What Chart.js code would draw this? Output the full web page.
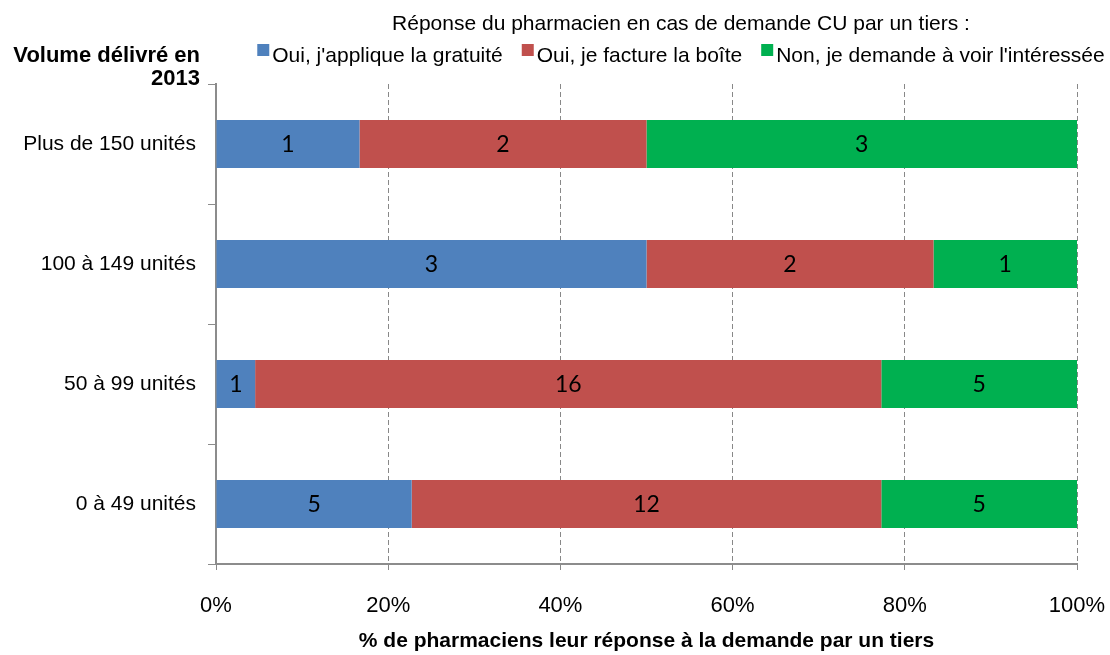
<!DOCTYPE html>
<html lang="fr">
<head>
<meta charset="utf-8">
<title>Réponse du pharmacien en cas de demande CU par un tiers</title>
<script src="https://cdn.jsdelivr.net/npm/chart.js@4.4.1/dist/chart.umd.min.js"></script>
<style>
  html, body { margin: 0; padding: 0; background: #fff; }
</style>
</head>
<body>
<canvas id="chart" width="1110" height="655"></canvas>
<script>
// Catégories : volume délivré en 2013
const categories = ["Plus de 150 unités", "100 à 149 unités", "50 à 99 unités", "0 à 49 unités"];

// Nombre de pharmaciens pour chaque réponse
const gratuite = [1, 3, 1, 5];
const facture = [2, 2, 16, 12];
const voir = [3, 1, 5, 5];

const seriesNames = ["Oui, j'applique la gratuité", "Oui, je facture la boîte", "Non, je demande à voir l'intéressée"];
const seriesColors = ["#4F81BD", "#C0504D", "#00B050"];

// Graduations de l'axe horizontal (en %)
const xTicks = [0, 20, 40, 60, 80, 100];

const legendTitle = "Réponse du pharmacien en cas de demande CU par un tiers :";
const yTitle = ["Volume délivré en", "2013"];
const xTitle = "% de pharmaciens leur réponse à la demande par un tiers";

const FONT = "'Liberation Sans', Arial, sans-serif";

// Totaux par catégorie pour passer en pourcentage
const counts = [gratuite, facture, voir];
const totals = categories.map((_, i) => gratuite[i] + facture[i] + voir[i]);
function toPercent(arr) {
    return arr.map((v, i) => v / totals[i] * 100);
}

// Étiquettes de valeurs au centre des segments
const valueLabels = {
    id: "valueLabels",
    afterDatasetsDraw(chart) {
        const ctx = chart.ctx;
        ctx.save();
        ctx.fillStyle = "#000";
        ctx.font = "23px Lato, 'Open Sans', sans-serif";
        ctx.textAlign = "center";
        ctx.textBaseline = "middle";
        chart.data.datasets.forEach((ds, d) => {
            const meta = chart.getDatasetMeta(d);
            meta.data.forEach((bar, i) => {
                const cx = (bar.x + bar.base) / 2;
                ctx.fillText(String(counts[d][i]), cx, bar.y + 1);
            });
        });
        ctx.restore();
    }
};

// Légende, titre de légende et titre de l'axe vertical
const decor = {
    id: "decor",
    afterDraw(chart) {
        const ctx = chart.ctx;
        ctx.save();
        ctx.fillStyle = "#000";
        ctx.textBaseline = "alphabetic";

        // Titre de l'axe vertical (gras, aligné à droite)
        ctx.font = "bold 22px " + FONT;
        ctx.textAlign = "right";
        ctx.fillText(yTitle[0], 200, 62);
        ctx.fillText(yTitle[1], 200, 85);

        // Légende
        ctx.font = "21px " + FONT;
        const box = 12, gapBox = 3, gapItem = 19;
        const widths = seriesNames.map(n => ctx.measureText(n).width);
        const total = widths.reduce((a, b) => a + b, 0) + seriesNames.length * (box + gapBox) + gapItem * (seriesNames.length - 1);
        const cx = 681;

        ctx.textAlign = "center";
        ctx.fillText(legendTitle, cx, 30);

        ctx.textAlign = "left";
        let x = cx - total / 2;
        seriesNames.forEach((name, i) => {
            ctx.fillStyle = seriesColors[i];
            ctx.fillRect(x, 44, box, box);
            ctx.fillStyle = "#000";
            ctx.fillText(name, x + box + gapBox, 62);
            x += box + gapBox + widths[i] + gapItem;
        });
        ctx.restore();
    }
};

const datasets = counts.map((arr, i) => ({
    label: seriesNames[i],
    data: toPercent(arr),
    backgroundColor: seriesColors[i],
    borderWidth: 0,
    categoryPercentage: 1,
    barPercentage: 0.4
}));

const ctx = document.getElementById("chart").getContext("2d");
new Chart(ctx, {
    type: "bar",
    data: { labels: categories, datasets: datasets },
    plugins: [valueLabels, decor],
    options: {
        indexAxis: "y",
        responsive: false,
        animation: false,
        devicePixelRatio: 1,
        layout: { padding: { top: 84, right: 33, left: 0, bottom: 0 } },
        plugins: {
            legend: { display: false },
            tooltip: { enabled: false }
        },
        scales: {
            x: {
                stacked: true,
                min: 0,
                max: 100,
                afterBuildTicks: s => { s.ticks = xTicks.map(v => ({ value: v })); },
                afterFit: s => {
                    s.height = 91;
                    s.paddingLeft = 0;
                    s.paddingRight = 0;
                },
                grid: { color: "#888888", lineWidth: 1, tickLength: 6, tickColor: "#888888" },
                border: { display: true, color: "#8c8c8c", width: 2, dash: [5, 3] },
                ticks: {
                    callback: v => v + "%",
                    color: "#000",
                    font: { family: FONT, size: 22 },
                    padding: 23,
                    maxRotation: 0
                },
                title: {
                    display: true,
                    text: xTitle,
                    color: "#000",
                    font: { family: FONT, size: 21, weight: "bold" },
                    padding: { top: 0, bottom: 1 }
                }
            },
            y: {
                stacked: true,
                afterFit: s => { s.width = 216; },
                grid: { offset: true, drawOnChartArea: false, tickLength: 8, color: "#8c8c8c" },
                border: { display: true, color: "#8c8c8c", width: 2 },
                ticks: {
                    color: "#000",
                    font: { family: FONT, size: 21 },
                    padding: 12
                }
            }
        }
    }
});
</script>
</body>
</html>
